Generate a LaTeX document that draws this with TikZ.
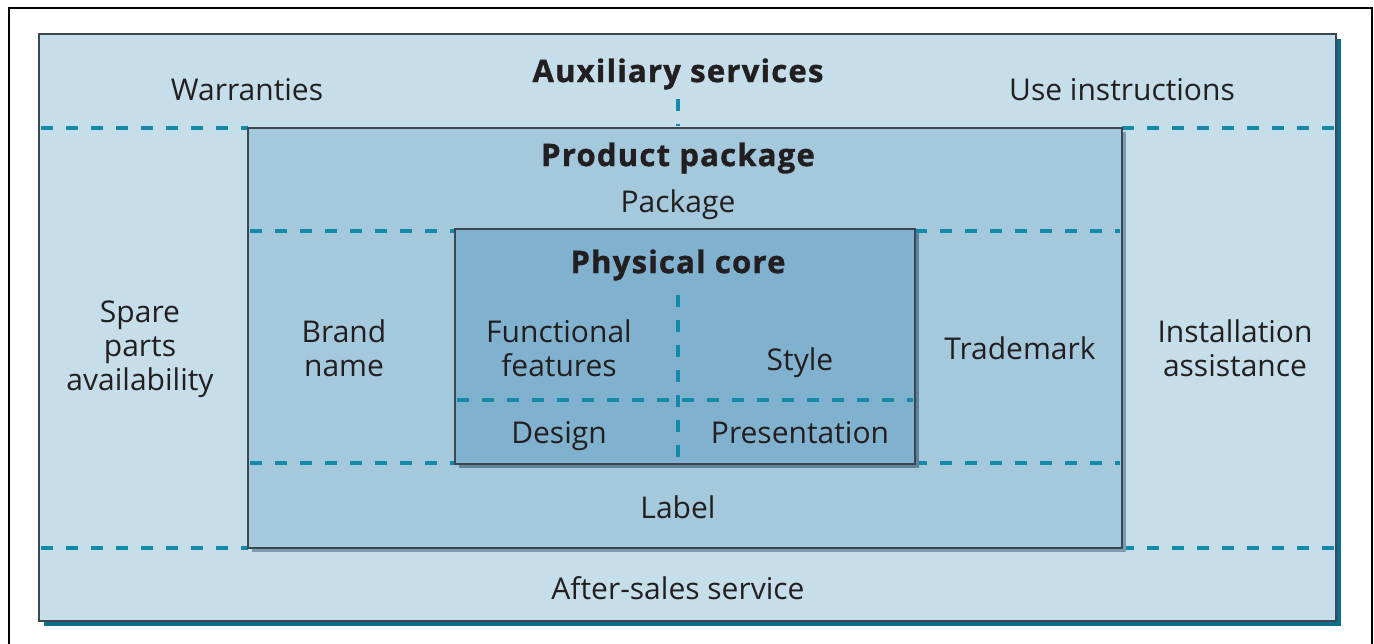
\documentclass[tikz,border=0pt]{standalone}
\usepackage{fontspec}
\setmainfont{Open Sans}
\newfontfamily\headfont[LetterSpace=4,BoldFeatures={FakeBold=1.2}]{Open Sans}

\definecolor{ink}{HTML}{231F20}
\definecolor{edge}{HTML}{3B4650}
\definecolor{dashblue}{HTML}{1589A8}
\definecolor{auxfill}{HTML}{C6DEE9}
\definecolor{packfill}{HTML}{A4C8DC}
\definecolor{corefill}{HTML}{80B2CF}
\definecolor{auxshadow}{HTML}{0B6E8C}
\definecolor{packshadow}{HTML}{7C9CB0}
\definecolor{coreshadow}{HTML}{5F8399}

\begin{document}
\begin{tikzpicture}[x=1pt,y=-1pt,
    txt/.style={font=\fontsize{30}{34}\selectfont, text=ink, align=center, inner sep=0pt},
    head/.style={font=\headfont\fontsize{31}{34}\selectfont\bfseries, text=ink, align=center, inner sep=0pt},
    dashline/.style={draw=dashblue, line width=4pt, dash pattern=on 12pt off 13pt},
    box/.style={draw=edge, line width=1.6pt}]
        \useasboundingbox (0,0) rectangle (1374,643);

        % Frame
        \draw[line width=1.5pt] (9,660) -- (9,8) -- (1372,8) -- (1372,660);

        % Auxiliary services
        \fill[auxshadow] (44,39) rectangle (1341,626);
        \draw[box, fill=auxfill] (39,34) rectangle (1336,621);
        \draw[dashline] (41,128) -- (248,128);
        \draw[dashline] (1122,128) -- (1334,128);
        \draw[dashline] (41,548) -- (248,548);
        \draw[dashline] (1122,548) -- (1334,548);
        \draw[dashline] (678,99) -- (678,126);

        % Product package
        \fill[packshadow] (252,132) rectangle (1126,552);
        \draw[box, fill=packfill] (248,128) rectangle (1122,548);
        \draw[dashline] (250,231) -- (455,231);
        \draw[dashline] (915,231) -- (1120,231);
        \draw[dashline] (250,463) -- (455,463);
        \draw[dashline] (915,463) -- (1120,463);

        % Physical core
        \fill[coreshadow] (459,233) rectangle (919,468);
        \draw[box, fill=corefill] (455,229) rectangle (915,464);
        \draw[dashline] (457,400) -- (913,400);
        \draw[dashline] (678,295) -- (678,462);

        % Outer ring
        \node[head] (aux) at (678,74) {Auxiliary services};
        \node[txt] (warr) at (247,90) {Warranties};
        \node[txt] (instr) at (1122,90) {Use instructions};
        \node[txt] (spare) at (140,349) {Spare\\parts\\availability};
        \node[txt] (install) at (1235,348) {Installation\\assistance};
        \node[txt] (after) at (678,588) {After-sales service};

        % Middle ring
        \node[head] (pack) at (678,158) {Product package};
        \node[txt] (packg) at (678,205) {Package};
        \node[txt] (brand) at (344,348) {Brand\\name};
        \node[txt] (trade) at (1020,348) {Trademark};
        \node[txt] (label) at (678,507) {Label};

        % Inner core
        \node[head] (core) at (678,265) {Physical core};
        \node[txt] (func) at (559,348) {Functional\\features};
        \node[txt] (style) at (800,363) {Style};
        \node[txt] (design) at (559,436) {Design};
        \node[txt] (pres) at (800,433) {Presentation};
    \end{tikzpicture}
\end{document}
